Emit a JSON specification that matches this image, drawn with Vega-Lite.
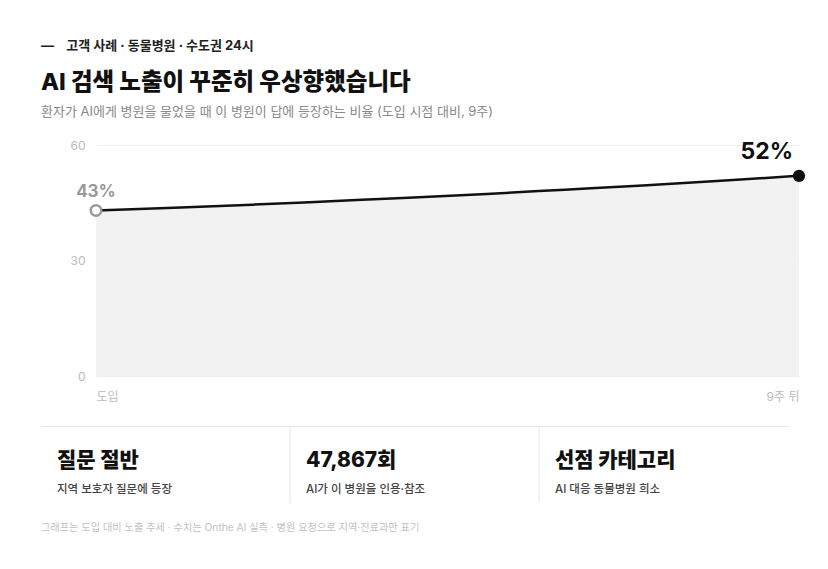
{
  "$schema": "https://vega.github.io/schema/vega-lite/v6.json",
  "background": "white",
  "padding": {"left": 41, "top": 39, "right": 20, "bottom": 20},
  "config": {
    "font": "Inter, Noto Sans CJK KR, sans-serif",
    "view": {"stroke": null},
    "concat": {"spacing": 23}
  },
  "title": {
    "text": "—\u00a0\u00a0\u00a0\u00a0고객 사례 · 동물병원 · 수도권 24시",
    "anchor": "start",
    "frame": "bounds",
    "fontSize": 13,
    "fontWeight": 700,
    "color": "#222222",
    "offset": 18
  },
  "vconcat": [
    {
      "width": 703,
      "height": 231,
      "title": {
        "text": "AI 검색 노출이 꾸준히 우상향했습니다",
        "subtitle": "환자가 AI에게 병원을 물었을 때 이 병원이 답에 등장하는 비율 (도입 시점 대비, 9주)",
        "anchor": "start",
        "frame": "bounds",
        "fontSize": 23.5,
        "fontWeight": 800,
        "color": "#111111",
        "subtitleFontSize": 13,
        "subtitleColor": "#888888",
        "subtitlePadding": 12,
        "offset": 20
      },
      "data": {
        "values": [
          {"week": 0, "value": 43},
          {"week": 1, "value": 43.7},
          {"week": 2, "value": 44.5},
          {"week": 3, "value": 45.4},
          {"week": 4, "value": 46.3},
          {"week": 5, "value": 47.3},
          {"week": 6, "value": 48.4},
          {"week": 7, "value": 49.5},
          {"week": 8, "value": 50.7},
          {"week": 9, "value": 52}
        ]
      },
      "encoding": {
        "x": {
          "field": "week",
          "type": "quantitative",
          "scale": {"domain": [0, 9], "nice": false, "zero": false},
          "axis": {
            "values": [0, 9],
            "labelExpr": "datum.value == 0 ? '도입' : '9주 뒤'",
            "labelFlush": true,
            "domain": false,
            "ticks": false,
            "grid": false,
            "labelColor": "#bbbbbb",
            "labelFontSize": 12,
            "labelPadding": 15,
            "title": null
          }
        }
      },
      "layer": [
        {
          "mark": {"type": "area", "color": "#f2f2f2", "interpolate": "monotone"},
          "encoding": {
            "y": {
              "field": "value",
              "type": "quantitative",
              "scale": {"domain": [0, 60], "nice": false},
              "axis": {
                "values": [0, 30, 60],
                "domain": false,
                "ticks": false,
                "labelColor": "#bbbbbb",
                "labelFontSize": 12,
                "labelPadding": 11,
                "gridColor": "#eeeeee",
                "minExtent": 55,
                "title": null
              }
            }
          }
        },
        {
          "mark": {"type": "line", "color": "#111111", "strokeWidth": 2.5, "interpolate": "monotone"},
          "encoding": {"y": {"field": "value", "type": "quantitative"}}
        },
        {
          "transform": [{"filter": "datum.week == 0"}],
          "mark": {"type": "point", "filled": true, "fill": "white", "stroke": "#999999", "strokeWidth": 2.5, "size": 110, "opacity": 1},
          "encoding": {"y": {"field": "value", "type": "quantitative"}}
        },
        {
          "transform": [{"filter": "datum.week == 9"}],
          "mark": {"type": "circle", "color": "#111111", "size": 150, "opacity": 1},
          "encoding": {"y": {"field": "value", "type": "quantitative"}}
        },
        {
          "transform": [
            {"filter": "datum.week == 0"},
            {"calculate": "format(datum.value, '.0f') + '%'", "as": "lbl"}
          ],
          "mark": {"type": "text", "color": "#999999", "fontSize": 17, "fontWeight": 700, "dy": -18},
          "encoding": {
            "y": {"field": "value", "type": "quantitative"},
            "text": {"field": "lbl"}
          }
        },
        {
          "transform": [
            {"filter": "datum.week == 9"},
            {"calculate": "format(datum.value, '.0f') + '%'", "as": "lbl"}
          ],
          "mark": {"type": "text", "color": "#111111", "fontSize": 23, "fontWeight": 700, "align": "right", "dx": -6, "dy": -24},
          "encoding": {
            "y": {"field": "value", "type": "quantitative"},
            "text": {"field": "lbl"}
          }
        }
      ]
    },
    {
      "width": 692,
      "height": 77,
      "title": {
        "text": "그래프는 도입 대비 노출 추세 · 수치는 Onthe AI 실측 · 병원 요청으로 지역·진료과만 표기",
        "orient": "bottom",
        "anchor": "start",
        "frame": "group",
        "dx": -55,
        "fontSize": 10.2,
        "fontWeight": 400,
        "color": "#c2c2c2",
        "offset": 19
      },
      "data": {
        "values": [
          {"panel": 1, "kind": "value", "text": "질문 절반"},
          {"panel": 1, "kind": "label", "text": "지역 보호자 질문에 등장"},
          {"panel": 2, "kind": "value", "text": "47,867회"},
          {"panel": 2, "kind": "label", "text": "AI가 이 병원을 인용·참조"},
          {"panel": 3, "kind": "value", "text": "선점 카테고리"},
          {"panel": 3, "kind": "label", "text": "AI 대응 동물병원 희소"}
        ]
      },
      "encoding": {
        "x": {
          "field": "panel",
          "type": "ordinal",
          "bandPosition": 0,
          "scale": {"type": "band", "paddingInner": 0, "paddingOuter": 0, "range": [-55, 692]},
          "axis": {
            "orient": "top",
            "labels": false,
            "ticks": false,
            "domain": true,
            "domainColor": "#e6e6e6",
            "domainWidth": 1,
            "grid": false,
            "title": null
          }
        }
      },
      "layer": [
        {
          "transform": [{"filter": "datum.kind == 'value' && datum.panel > 1"}],
          "mark": {"type": "rule", "color": "#e6e6e6", "strokeWidth": 1},
          "encoding": {}
        },
        {
          "transform": [{"filter": "datum.kind == 'value'"}],
          "mark": {"type": "text", "align": "left", "baseline": "middle", "dx": 16, "fontSize": 21, "fontWeight": 800, "color": "#111111"},
          "encoding": {
            "y": {
              "field": "kind",
              "type": "nominal",
              "scale": {"type": "point", "domain": ["value", "label"], "range": [35, 64], "padding": 0},
              "axis": null
            },
            "text": {"field": "text"}
          }
        },
        {
          "transform": [{"filter": "datum.kind == 'label'"}],
          "mark": {"type": "text", "align": "left", "baseline": "middle", "dx": 16, "fontSize": 11.5, "fontWeight": 500, "color": "#444444"},
          "encoding": {
            "y": {"field": "kind", "type": "nominal"},
            "text": {"field": "text"}
          }
        }
      ]
    }
  ]
}
